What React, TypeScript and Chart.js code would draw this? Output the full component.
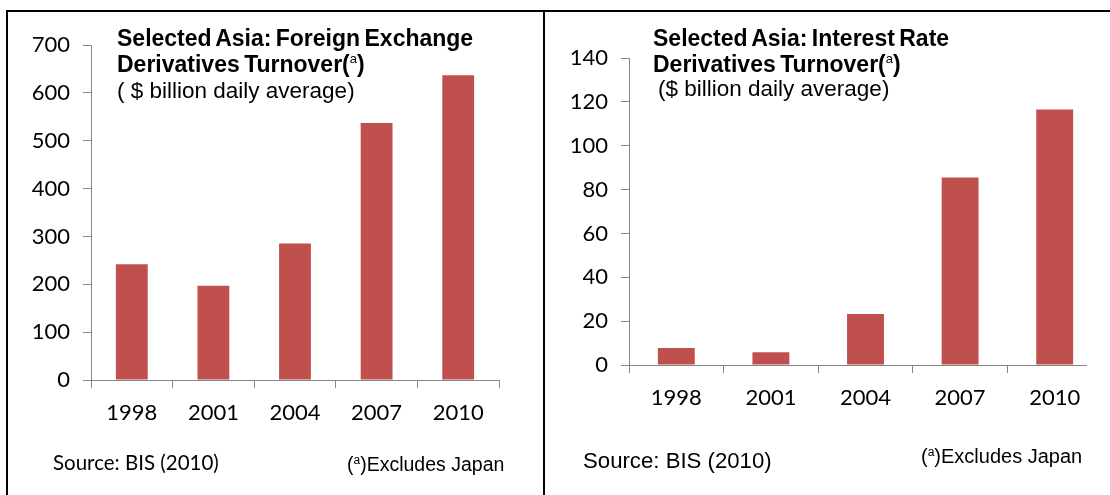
import React, { useEffect, useRef } from 'react';
import { Chart, registerables } from 'chart.js';

Chart.register(...registerables);

// ---- data ----
const years = ['1998', '2001', '2004', '2007', '2010'];
const fxTurnover = [242, 197, 285, 537, 637];
const irTurnover = [7.8, 5.8, 23.3, 85.5, 116.5];
const fxTickMax = 700;
const fxTickStep = 100;
const irTickMax = 140;
const irTickStep = 20;

const fxTitle = ['Selected Asia: Foreign Exchange', 'Derivatives Turnover(', ')', '( $ billion daily average)'];
const irTitle = ['Selected Asia: Interest Rate', 'Derivatives Turnover(', ')', '($ billion daily average)'];
const sourceText = 'Source: BIS (2010)';
const noteText = 'Excludes Japan';

const AXIS = '#868686';
const BAR = '#C0504D';
const TICK_FONT = 'Lato, "Open Sans", sans-serif';
const ARIAL = '"Liberation Sans", Arial, sans-serif';

type BarProps = {
  values: number[];
  yMax: number;
  yStep: number;
  width: number;
  height: number;
  padTop: number;
  padRight: number;
  padBottom: number;
  yAxisWidth: number;
  xAxisHeight: number;
};

function BarChart(p: BarProps) {
  const ref = useRef<HTMLCanvasElement | null>(null);
  useEffect(() => {
    if (!ref.current) return;
    const gridOpts = {
      drawOnChartArea: false,
      drawTicks: true,
      tickLength: 8,
      color: AXIS,
      lineWidth: 1,
    };
    const chart = new Chart(ref.current, {
      type: 'bar',
      data: {
        labels: years,
        datasets: [
          {
            data: p.values,
            backgroundColor: BAR,
            borderWidth: 0,
            barPercentage: 0.39,
            categoryPercentage: 1,
          },
        ],
      },
      options: {
        animation: false,
        responsive: false,
        maintainAspectRatio: false,
        events: [],
        layout: { padding: { top: p.padTop, right: p.padRight, bottom: p.padBottom, left: 0 } },
        plugins: { legend: { display: false }, tooltip: { enabled: false }, title: { display: false } },
        scales: {
          x: {
            offset: true,
            grid: { ...gridOpts, offset: true },
            border: { display: true, color: AXIS, width: 1 },
            ticks: {
              color: '#000',
              font: { family: TICK_FONT, size: 22 },
              padding: 12,
              maxRotation: 0,
              autoSkip: false,
            },
            afterFit: (s: any) => {
              s.height = p.xAxisHeight;
            },
          },
          y: {
            min: 0,
            max: p.yMax,
            grid: gridOpts,
            border: { display: true, color: AXIS, width: 1 },
            ticks: {
              stepSize: p.yStep,
              color: '#000',
              font: { family: TICK_FONT, size: 22 },
              padding: 13,
            },
            afterFit: (s: any) => {
              s.width = p.yAxisWidth;
            },
          },
        },
      },
    });
    return () => chart.destroy();
  }, []);
  return (
    <canvas
      ref={ref}
      width={p.width}
      height={p.height}
      style={{ position: 'absolute', left: 0, top: 0, width: p.width, height: p.height }}
    />
  );
}

function Txt(props: {
  x: number;
  baseline: number;
  size: number;
  family: string;
  ascent: number;
  lh: number;
  bold?: boolean;
  ws?: number;
  ls?: number;
  children: React.ReactNode;
}) {
  const lineH = props.lh * props.size;
  return (
    <div
      style={{
        position: 'absolute',
        left: props.x,
        top: props.baseline - props.ascent * props.size,
        fontFamily: props.family,
        fontSize: props.size,
        fontWeight: props.bold ? 700 : 400,
        lineHeight: `${lineH}px`,
        whiteSpace: 'pre',
        color: '#000',
        wordSpacing: props.ws ?? 0,
        letterSpacing: props.ls ?? 0,
      }}
    >
      {props.children}
    </div>
  );
}

const Sup = () => (
  <span style={{ fontSize: 13, position: 'relative', top: -9, fontWeight: 400 }}>a</span>
);

function ArialT(props: { x: number; baseline: number; size: number; bold?: boolean; ws?: number; ls?: number; children: React.ReactNode }) {
  return (
    <Txt {...props} family={ARIAL} ascent={0.905} lh={1.117}>
      {props.children}
    </Txt>
  );
}

export default function App() {
  return (
    <div
      style={{
        position: 'fixed',
        left: 0,
        top: 0,
        width: 1110,
        height: 495,
        background: '#fff',
        overflow: 'hidden',
      }}
    >
      {/* left chart */}
      <div style={{ position: 'absolute', left: 0, top: 0, width: 544, height: 495 }}>
        <BarChart
          values={fxTurnover}
          yMax={fxTickMax}
          yStep={fxTickStep}
          width={544}
          height={495}
          padTop={45}
          padRight={45}
          padBottom={55}
          yAxisWidth={91}
          xAxisHeight={60}
        />
      </div>
      {/* right chart (clipped at right like the reference) */}
      <div style={{ position: 'absolute', left: 546, top: 0, width: 541, height: 495, overflow: 'hidden' }}>
        <BarChart
          values={irTurnover}
          yMax={irTickMax}
          yStep={irTickStep}
          width={560}
          height={495}
          padTop={58}
          padRight={4}
          padBottom={70}
          yAxisWidth={83}
          xAxisHeight={60}
        />
      </div>

      {/* frame */}
      <div style={{ position: 'absolute', left: 6, top: 10, width: 1104, height: 2, background: '#000' }} />
      <div style={{ position: 'absolute', left: 6, top: 10, width: 2, height: 485, background: '#000' }} />
      <div style={{ position: 'absolute', left: 543, top: 10, width: 2, height: 485, background: '#000' }} />

      {/* left title */}
      <ArialT x={117} baseline={47} size={23} bold ws={-2}>{fxTitle[0]}</ArialT>
      <ArialT x={117} baseline={73} size={23} bold ws={-2}>
        {fxTitle[1]}
        <Sup />
        {fxTitle[2]}
      </ArialT>
      <ArialT x={117} baseline={98} size={22.5}>{fxTitle[3]}</ArialT>

      {/* right title */}
      <ArialT x={653} baseline={47} size={23} bold ws={-2}>{irTitle[0]}</ArialT>
      <ArialT x={653} baseline={72.5} size={23} bold ws={-2}>
        {irTitle[1]}
        <Sup />
        {irTitle[2]}
      </ArialT>
      <ArialT x={658} baseline={96} size={22.5}>{irTitle[3]}</ArialT>

      {/* footers */}
      <Txt x={53} baseline={470} size={20.5} family={TICK_FONT} ascent={0.987} lh={1.2}>
        {sourceText}
      </Txt>
      <ArialT x={347} baseline={472} size={19.5}>
        (<span style={{ fontSize: 12, position: 'relative', top: -7 }}>a</span>){noteText}
      </ArialT>
      <ArialT x={583} baseline={469} size={22.2}>{sourceText}</ArialT>
      <ArialT x={921} baseline={463} size={20}>
        (<span style={{ fontSize: 12, position: 'relative', top: -7 }}>a</span>){noteText}
      </ArialT>
    </div>
  );
}
